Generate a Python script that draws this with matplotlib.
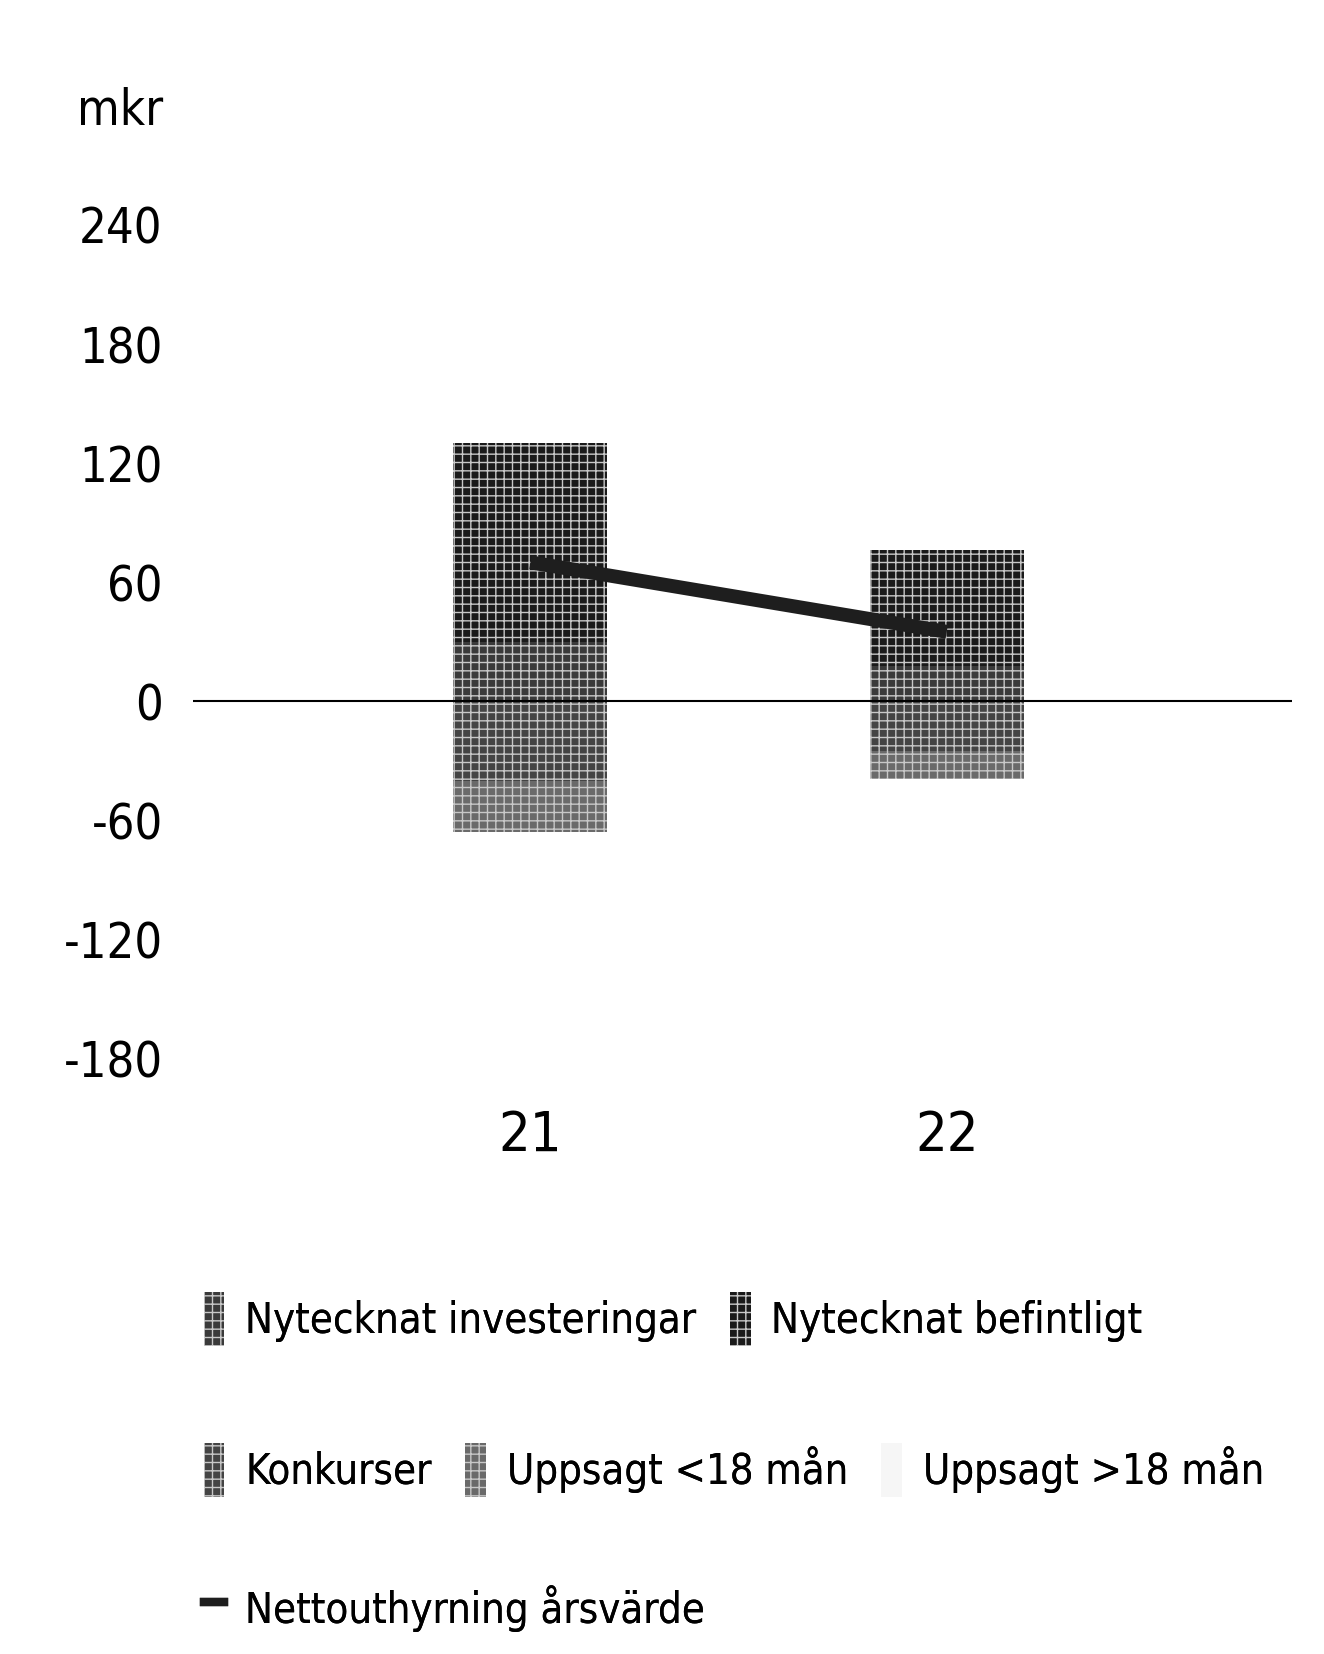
import matplotlib
matplotlib.use("Agg")
import matplotlib.pyplot as plt
import numpy as np
from matplotlib.patches import Patch
from matplotlib.lines import Line2D

plt.rcParams["font.family"] = ["DejaVu Sans"]
plt.rcParams["font.stretch"] = "condensed"

categories = ["21", "22"]
nytecknat_inv = [30, 18]
nytecknat_bef = [100, 58]
konkurser = [-40, -25]
uppsagt_lt18 = [-26, -14]
uppsagt_gt18 = [0, 0]
netto = [70, 35]

yticks = [-180, -120, -60, 0, 60, 120, 180, 240, 300]
ytick_labels = ["-180", "-120", "-60", "0", "60", "120", "180", "240", "mkr"]

COL_INV = "#3a3a3a"
COL_BEF = "#1a1a1a"
COL_KONK = "#444444"
COL_LT18 = "#6a6a6a"
COL_GT18 = "#f6f6f6"
COL_LINE = "#1e1e1e"
HATCH_COL = "#c8c8c8"

fig = plt.figure(figsize=(13.24, 16.54), dpi=100)
ax = fig.add_axes([0.146, 0.360, 0.830, 0.576])

x = np.arange(len(categories))
w = 0.37
hatch_kw = dict(edgecolor=HATCH_COL, linewidth=0, hatch="++")

ax.bar(x, nytecknat_inv, w, color=COL_INV, **hatch_kw)
ax.bar(x, nytecknat_bef, w, bottom=nytecknat_inv, color=COL_BEF, **hatch_kw)
ax.bar(x, konkurser, w, color=COL_KONK, **hatch_kw)
ax.bar(x, uppsagt_lt18, w, bottom=konkurser, color=COL_LT18, **hatch_kw)
ax.bar(x, uppsagt_gt18, w, bottom=np.add(konkurser, uppsagt_lt18), color=COL_GT18)
ax.plot(x, netto, color=COL_LINE, linewidth=10, solid_capstyle="butt", zorder=5)

ax.axhline(0, color="black", linewidth=1.5, zorder=4)
ax.set_xlim(-0.81, 1.83)
ax.set_ylim(-180, 300)
ax.set_yticks(yticks)
ax.set_yticklabels(ytick_labels, fontsize=35)
ax.set_xticks(x)
ax.set_xticklabels(categories, fontsize=40)
ax.tick_params(length=0)
ax.tick_params(axis="y", pad=22)
ax.tick_params(axis="x", pad=36)
for s in ax.spines.values():
    s.set_visible(False)

rows = [
    [Patch(facecolor=COL_INV, hatch="++", edgecolor=HATCH_COL, linewidth=0, label="Nytecknat investeringar"),
     Patch(facecolor=COL_BEF, hatch="++", edgecolor=HATCH_COL, linewidth=0, label="Nytecknat befintligt")],
    [Patch(facecolor=COL_KONK, hatch="++", edgecolor=HATCH_COL, linewidth=0, label="Konkurser"),
     Patch(facecolor=COL_LT18, hatch="++", edgecolor=HATCH_COL, linewidth=0, label="Uppsagt <18 mån"),
     Patch(facecolor=COL_GT18, edgecolor="none", label="Uppsagt >18 mån")],
    [Line2D([0], [0], color=COL_LINE, linewidth=6, label="Nettouthyrning årsvärde")],
]
row_y = [1 - 1319 / 1654, 1 - 1470 / 1654, 1 - 1609 / 1654]
for handles, yy in zip(rows, row_y):
    leg = fig.legend(handles=handles, loc="center left", bbox_to_anchor=(0.138, yy),
                     ncol=len(handles), frameon=False, fontsize=30,
                     handlelength=0.5, handleheight=1.6, handletextpad=0.5,
                     columnspacing=0.8, borderpad=0)
    fig.add_artist(leg)

fig.savefig("out.png", dpi=100, facecolor="white")
